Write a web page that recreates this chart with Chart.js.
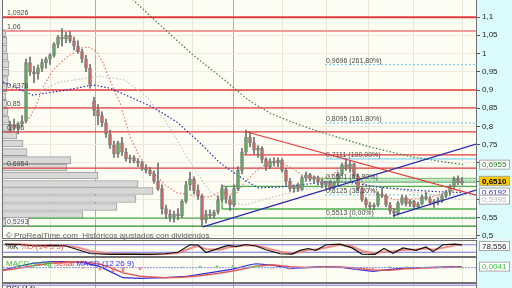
<!DOCTYPE html>
<html>
<head>
<meta charset="utf-8">
<script src="https://cdn.jsdelivr.net/npm/chart.js@4/dist/chart.umd.min.js"></script>
<style>
  html, body { margin: 0; padding: 0; background: #fff; }
  #wrap { position: relative; width: 512px; height: 288px; overflow: hidden; background: #f3f3f3;
          font-family: "Liberation Sans", Arial, sans-serif; }
  canvas { position: absolute; left: 0; display: block; }
  .title { position: absolute; left: 6px; font-size: 8px; line-height: 9px; white-space: nowrap; z-index: 2; }
</style>
</head>
<body>
<div id="wrap">
  <canvas id="mainChart" width="512" height="239" style="top:0"></canvas>
  <canvas id="stochChart" width="512" height="17" style="top:240px"></canvas>
  <canvas id="macdChart" width="512" height="26" style="top:257px"></canvas>
  <canvas id="rsiChart" width="512" height="6" style="top:283px"></canvas>

  <div class="title" style="top:231px;color:#666">© ProRealTime.com &nbsp;Históricos ajustados con dividendos</div>
  <div class="title" style="top:242px"><span style="color:#111">%K</span> <span style="color:#e8605a">%D (14 3 3)</span></div>
  <div class="title" style="top:259px"><span style="color:#3cbf3c">MACD-señal</span> <span style="color:#e04040">Señal</span> <span style="color:#2f2fff">MACD (12 26 9)</span></div>
  <div class="title" style="top:284px;color:#222">RSI (14)</div>
</div>

<script>
// ============================
// Данные графика
// ============================

// свечи (индекс = номер недели)
const opens  = [0.800,0.805,0.795,0.808,0.815,0.975,0.950,0.945,0.960,0.975,0.985,0.995,1.025,1.045,1.040,1.050,1.035,1.020,1.005,0.985,
                0.960,0.870,0.845,0.830,0.810,0.780,0.750,0.725,0.755,0.730,0.712,0.715,0.705,0.700,0.685,0.680,0.670,0.650,0.630,0.575,
                0.560,0.552,0.560,0.555,0.595,0.640,0.655,0.625,0.610,0.545,0.560,0.555,0.565,0.600,0.630,0.600,0.585,0.630,0.680,0.730,
                0.770,0.755,0.735,0.740,0.710,0.690,0.705,0.700,0.708,0.680,0.650,0.630,0.635,0.628,0.660,0.668,0.655,0.660,0.648,0.640,
                0.645,0.632,0.645,0.670,0.695,0.688,0.698,0.665,0.630,0.600,0.585,0.580,0.585,0.615,0.610,0.585,0.568,0.562,0.590,0.605,
                0.588,0.595,0.580,0.588,0.608,0.602,0.590,0.595,0.598,0.610,0.620,0.635,0.655,0.645];
const highs  = [0.815,0.820,0.812,0.830,0.985,0.990,0.965,0.968,0.985,0.990,1.000,1.030,1.050,1.068,1.058,1.060,1.045,1.035,1.012,0.995,
                0.970,0.880,0.860,0.840,0.820,0.790,0.760,0.760,0.770,0.740,0.722,0.720,0.712,0.705,0.695,0.688,0.678,0.700,0.640,0.585,
                0.572,0.568,0.575,0.600,0.650,0.675,0.662,0.640,0.615,0.570,0.572,0.570,0.610,0.640,0.635,0.610,0.640,0.690,0.740,0.790,
                0.785,0.770,0.748,0.745,0.715,0.712,0.715,0.714,0.712,0.685,0.658,0.640,0.645,0.665,0.675,0.672,0.665,0.664,0.655,0.650,
                0.652,0.648,0.675,0.700,0.712,0.705,0.700,0.670,0.635,0.605,0.592,0.590,0.620,0.632,0.615,0.592,0.575,0.595,0.612,0.610,
                0.600,0.598,0.592,0.612,0.620,0.608,0.600,0.605,0.615,0.625,0.640,0.662,0.665,0.660];
const lows   = [0.785,0.790,0.780,0.800,0.810,0.940,0.920,0.930,0.950,0.960,0.970,0.990,1.015,1.020,1.030,1.030,1.010,1.000,0.975,0.950,
                0.905,0.830,0.805,0.800,0.770,0.740,0.715,0.715,0.720,0.705,0.700,0.700,0.690,0.680,0.672,0.665,0.645,0.625,0.560,0.548,
                0.540,0.538,0.545,0.550,0.590,0.625,0.615,0.600,0.525,0.535,0.548,0.548,0.560,0.595,0.590,0.570,0.580,0.625,0.670,0.725,
                0.745,0.725,0.715,0.700,0.680,0.685,0.692,0.690,0.675,0.640,0.622,0.620,0.622,0.625,0.650,0.650,0.645,0.640,0.632,0.628,
                0.625,0.628,0.640,0.665,0.680,0.675,0.660,0.625,0.595,0.578,0.572,0.572,0.580,0.605,0.580,0.560,0.552,0.558,0.585,0.582,
                0.580,0.575,0.575,0.585,0.598,0.585,0.578,0.585,0.592,0.605,0.612,0.630,0.640,0.640];
const closes = [0.805,0.795,0.808,0.815,0.975,0.950,0.945,0.960,0.975,0.985,0.995,1.025,1.045,1.040,1.050,1.035,1.020,1.005,0.985,0.960,
                0.915,0.845,0.830,0.810,0.780,0.750,0.725,0.755,0.730,0.712,0.715,0.705,0.700,0.685,0.680,0.670,0.650,0.630,0.575,0.560,
                0.552,0.560,0.555,0.595,0.640,0.655,0.625,0.610,0.545,0.560,0.555,0.565,0.600,0.630,0.600,0.585,0.630,0.680,0.730,0.770,
                0.755,0.735,0.740,0.710,0.690,0.705,0.700,0.708,0.680,0.650,0.630,0.635,0.628,0.660,0.668,0.655,0.660,0.648,0.640,0.645,
                0.632,0.645,0.670,0.695,0.688,0.698,0.665,0.630,0.600,0.585,0.580,0.585,0.615,0.610,0.585,0.568,0.562,0.590,0.605,0.588,
                0.595,0.580,0.588,0.608,0.602,0.590,0.595,0.598,0.610,0.620,0.635,0.655,0.645,0.651];

// скользящие средние: [индекс, цена]
const maFast  = [[2,0.796],[5,0.826],[6.75,0.864],[8.25,0.908],[10.75,0.955],[14.25,0.990],[17.5,1.015],[19.5,1.018],[21.75,1.004],
                 [23.25,0.974],[25,0.927],[27.5,0.864],[30,0.771],[32.5,0.716],[35,0.681],[38.75,0.640],[41.75,0.618],[45,0.612],
                 [47.5,0.607],[50,0.607],[52.5,0.621],[56.25,0.612],[58.75,0.648],[61.25,0.675],[63.75,0.695],[67,0.703],[70.5,0.686],
                 [73.75,0.662],[78.75,0.659],[81.25,0.673],[83.75,0.700],[86.25,0.673],[88.75,0.640],[91.25,0.621],[96.25,0.599],
                 [104.5,0.604],[111.25,0.626],[113,0.630]];
const maMid   = [[6.25,0.892],[12.5,0.922],[22.5,0.938],[28.75,0.927],[34.25,0.881],[38.75,0.818],[42.5,0.749],[46.25,0.681],
                 [50,0.621],[53.75,0.593],[58.75,0.585],[65,0.604],[72.5,0.626],[80,0.637],[87.5,0.642],[97.5,0.626],[107.5,0.610],[113,0.5995]];
const maSlow  = [[-1.75,0.922],[5.75,0.886],[14.25,0.900],[20.75,0.914],[25,0.905],[30,0.881],[35.75,0.853],[41.75,0.812],[47.5,0.755],
                 [52.5,0.700],[55,0.681],[58.75,0.653],[62,0.632],[67,0.634],[72.5,0.640],[78.75,0.648],[84.5,0.648],[92,0.634],
                 [100.5,0.626],[107.5,0.621],[113,0.6192]];
const maLong  = [[30,1.155],[37.5,1.078],[45.75,0.996],[54.25,0.922],[59.5,0.873],[65,0.837],[70.5,0.812],[77.5,0.785],[90,0.744],
                 [100.75,0.716],[113.25,0.6955]];

// горизонтальные уровни: [цена, начальный индекс]
const redLevels   = [[1.0995,-1.75],[1.0616,-1.75],[0.900,-1.75],[0.851,-1.75],[0.785,-1.75],[0.722,58.5],[0.686,-1.75]];
const greenLevels = [[0.636,53],[0.574,53],[0.549,-1.75],[0.527,-1.75]];
const bandLevels  = [0.658, 0.647];
const fibLevels   = [0.9696, 0.8095, 0.7111, 0.6501, 0.6125, 0.5513];
const fibStart    = 78.75;
const leftLabels  = [['1,0926',1.0995],['1,06',1.0616],['0,9376',0.900],['0,85',0.851],['0,796',0.785],['0,6954',0.686],['0,5293',0.527]];
const fibLabels   = ['0,9696 (261,80%)','0,8095 (161,80%)','0,7111 (100,00%)','0,6501 (61,80%)','0,6125 (38,20%)','0,5513 (0,00%)'];

// линии тренда: [[x0,y0],[x1,y1]]
const trendRed   = [[59.25,0.785],[116.5,0.612]];
const trendBlue  = [[48.25,0.525],[116.5,0.752]];
const trendBlue2 = [[95.75,0.555],[116.5,0.626]];

// профиль объёма
const profilePrices = [0.5356,0.5575,0.5795,0.6014,0.6233,0.6425,0.6658,0.6877,0.708,0.730,0.7534,0.7753,
                       0.797,0.819,0.840,0.862,0.883,0.905,0.927,0.948,0.970,0.991,1.013,1.035,1.056];
const profileVolume = [21,80,114,133,150,135,95,64,68,24,20,14,9,6,5,4,3,4,5,6,6,5,4,4,3];

// метки на правой оси
const priceTicks  = [0.5,0.55,0.6,0.65,0.7,0.75,0.8,0.85,0.9,0.95,1,1.05,1.1];
const hiddenTicks = [0.6,0.65,0.7];
const gridTicks   = [10,21.25,33.25,45.5,55.75,68,79,89.5,100.75,113];
const darkTicks   = [21.25,55.75];
const lastValues  = [['0,6955',0.6955,'#2e7d32','#ffffff',false],['0,6510',0.6510,'#000000','#ffcc00',true],
                     ['0,6192',0.6192,'#2424b0','#ffffff',false],['0,5995',0.5995,'#b8b8b8','#ffffff',false]];

// стохастик
const stochX = [-1.25,2.5,6.25,10,13.75,17,20,25,30,35,38.75,42,45,47,49,52.5,54.5,56.5,59,61.5,64,67.5,70.5,72.5,74.5,76.5,
                79,82.5,85.5,88,91.25,93.5,95.75,98.25,101.5,104,105.75,108.25,111.25,113];
const stochK = [85,82,70,75,72,40,10,3,5,3,8,20,80,78,18,55,75,65,82,70,40,8,5,35,50,35,80,85,55,5,3,50,12,55,35,62,25,80,85,78.556];
const stochD = [83,84,76,73,73,58,30,8,5,4,6,14,50,72,45,40,58,68,75,74,55,25,10,20,40,42,58,80,68,30,10,25,28,38,42,50,40,55,75,80];

// MACD
const macdX    = [-1.75,1.75,5.75,10,14.25,18.25,22.5,25.75,28.25,32.5,38.75,43.25,47.5,51.75,55.75,60,61.5,65.5,70,74,
                  78.25,82.5,86.5,90.75,95,99,103.25,107.5,111.5,113];
const macdLine = [-0.010,0.004,0.018,0.025,0.025,0.022,0.004,-0.022,-0.042,-0.045,-0.042,-0.038,-0.028,-0.017,-0.006,0.012,0.016,
                  0.010,-0.003,0.000,0.004,0.002,-0.008,-0.016,-0.007,-0.001,0.000,0.002,0.004,0.0041];
const macdSig  = [-0.012,-0.004,0.008,0.018,0.023,0.024,0.014,-0.004,-0.022,-0.036,-0.042,-0.040,-0.034,-0.025,-0.014,0.000,0.006,
                  0.012,0.004,0.000,0.002,0.003,-0.002,-0.010,-0.011,-0.005,-0.002,0.000,0.002,0.003];
const macdHist = [0.002,0.008,0.010,0.007,0.002,-0.002,-0.010,-0.018,-0.020,-0.009,0.000,0.002,0.006,0.008,0.008,0.008,0.010,
                  -0.002,-0.007,0.000,0.002,-0.001,-0.006,-0.006,0.004,0.004,0.002,0.002,0.002,0.001];

// ============================
// Общие настройки
// ============================
const X_MIN = -1.75, X_MAX = 116.5;
const FONT = '"Liberation Sans", Arial, sans-serif';
Chart.defaults.font.family = FONT;
Chart.defaults.font.size = 8;

const fmt = v => String(Math.round(v * 10000) / 10000).replace('.', ',');
const pts = arr => arr.map(([x, y]) => ({ x, y }));

// без отступов от подписей, чтобы область графика шла от края до края
const noPad = s => { s.width = 36; s.paddingTop = 0; s.paddingBottom = 0; };

function xAxis() {
    return {
        type: 'linear', min: X_MIN, max: X_MAX, offset: false,
        afterBuildTicks: s => { s.ticks = gridTicks.map(v => ({ value: v })); },
        afterFit: s => { s.height = 0; s.paddingLeft = 0; s.paddingRight = 0; },
        ticks: { display: false },
        grid: {
            offset: false, drawTicks: false,
            color: c => (c.tick && darkTicks.includes(c.tick.value)) ? '#b0b0b0' : '#e6e6d6'
        },
        border: { display: false }
    };
}

// фон панели и голубая полоса оси
const panelBg = {
    id: 'panelBg',
    beforeDraw(chart) {
        const { ctx, chartArea: a, width, height } = chart;
        ctx.save();
        ctx.fillStyle = '#dcfbfc';
        ctx.fillRect(a.right, 0, width - a.right, height);
        ctx.fillStyle = '#fdfdf3';
        ctx.fillRect(a.left, a.top, a.right - a.left, a.bottom - a.top);
        ctx.restore();
    },
    afterDraw(chart) {
        const { ctx, chartArea: a } = chart;
        ctx.save();
        ctx.strokeStyle = '#707070';
        ctx.lineWidth = 1;
        ctx.strokeRect(a.left - 0.5, a.top - 0.5, a.right - a.left + 1, a.bottom - a.top + 1);
        ctx.restore();
    }
};

function valueBox(ctx, a, yPix, text, color, bg, bold) {
    const cy = Math.max(a.top + 5, Math.min(a.bottom - 5, yPix));
    ctx.fillStyle = bg;
    ctx.fillRect(a.right + 3, cy - 5, 31, 10);
    ctx.strokeStyle = '#a8a8a8';
    ctx.strokeRect(a.right + 3.5, cy - 4.5, 30, 9);
    ctx.fillStyle = color;
    ctx.font = (bold ? 'bold ' : '') + '8px ' + FONT;
    ctx.textBaseline = 'middle';
    ctx.fillText(text, a.right + 6, cy + 0.5);
}

// подписи уровней и метки последних значений
const mainLabels = {
    id: 'mainLabels',
    afterDatasetsDraw(chart) {
        const { ctx, chartArea: a, scales: { x, y } } = chart;
        ctx.save();
        ctx.font = '7px ' + FONT;
        ctx.textBaseline = 'alphabetic';
        leftLabels.forEach(([txt, p]) => {
            const py = y.getPixelForValue(p);
            if (txt === '0,5293') {
                ctx.fillStyle = '#ffffff';
                ctx.fillRect(a.left + 2, py - 9, 24, 9);
                ctx.strokeStyle = '#9a9a9a';
                ctx.strokeRect(a.left + 2.5, py - 8.5, 23, 8);
            }
            ctx.fillStyle = '#4a4a4a';
            ctx.fillText(txt, a.left + 4, py - 2);
        });
        const fx = x.getPixelForValue(fibStart) + 1;
        fibLevels.forEach((p, i) => {
            ctx.fillStyle = '#4a4a4a';
            ctx.fillText(fibLabels[i], fx, y.getPixelForValue(p) - 2);
        });
        lastValues.forEach(([txt, p, color, bg, bold]) => valueBox(ctx, a, y.getPixelForValue(p), txt, color, bg, bold));
        ctx.restore();
    }
};

// ============================
// Основной график
// ============================
const hLine = (price, from, color, width, dash, order) => ({
    type: 'line', data: [{ x: from, y: price }, { x: X_MAX, y: price }],
    borderColor: color, borderWidth: width, borderDash: dash || [], pointRadius: 0, order: order
});
const maLine = (arr, color) => ({
    type: 'line', data: pts(arr), borderColor: color, borderWidth: 1.2, borderDash: [1.5, 2],
    pointRadius: 0, order: 6
});

const candleColors = opens.map((o, i) => closes[i] >= o ? '#58b458' : '#e0625c');

const datasets = [
    {
        type: 'bar', indexAxis: 'y', xAxisID: 'xv', yAxisID: 'y',
        data: profilePrices.map((p, i) => ({ y: p, x: profileVolume[i] })),
        backgroundColor: '#d8d8d8', borderColor: '#9c9c9c', borderWidth: 1,
        barThickness: 7, grouped: false, order: 10
    },
    ...fibLevels.map((p, i) => hLine(p, fibStart, '#6cc6f5', 1, i === 2 ? [] : [2, 2], 9)),
    ...redLevels.map(([p, from], i) => hLine(p, from, i === 1 ? '#f19a9a' : '#e53a3a', i < 2 ? 2 : 1.3, [], 8)),
    ...greenLevels.map(([p, from], i) => hLine(p, from, i === 3 ? '#2b8a2b' : '#4caf50', 1.3, [], 8)),
    hLine((bandLevels[0] + bandLevels[1]) / 2, 77.5, 'rgba(120,195,120,0.35)', 4, [], 8),
    ...bandLevels.map(p => hLine(p, 77.5, '#6fbf6f', 1, [], 8)),
    {
        type: 'line', data: [{ x: 53, y: greenLevels[1][0] }, { x: 53, y: greenLevels[0][0] }],
        borderColor: '#4caf50', borderWidth: 1.3, pointRadius: 0, order: 8
    },
    maLine(maLong, '#3f7d4a'),
    maLine(maSlow, '#2a2ab8'),
    maLine(maMid, '#c4c4c4'),
    maLine(maFast, '#e8776f'),
    {
        type: 'bar', data: lows.map((l, i) => ({ x: i, y: [l, highs[i]] })),
        backgroundColor: '#6e6e6e', barThickness: 1, grouped: false, order: 5
    },
    {
        type: 'bar', data: opens.map((o, i) => ({ x: i, y: [o, closes[i]] })),
        backgroundColor: candleColors, borderColor: '#7c7c7c', borderWidth: 1, borderSkipped: false,
        barThickness: 3, grouped: false, order: 4
    },
    { type: 'line', data: pts(trendRed), borderColor: '#e53a3a', borderWidth: 1.2, pointRadius: 0, order: 2 },
    { type: 'line', data: pts(trendBlue), borderColor: '#2a2ab0', borderWidth: 1.3, pointRadius: 0, order: 2 },
    { type: 'line', data: pts(trendBlue2), borderColor: '#2a2ab0', borderWidth: 1.3, pointRadius: 0, order: 2 }
];

new Chart(document.getElementById('mainChart'), {
    type: 'line',
    data: { datasets },
    options: {
        responsive: false, animation: false, devicePixelRatio: 1,
        layout: { padding: { left: 3, top: 0, right: 0, bottom: 1 } },
        plugins: { legend: { display: false }, tooltip: { enabled: false } },
        scales: {
            x: xAxis(),
            xv: { type: 'linear', display: false, min: 0, max: 473, offset: false },
            y: {
                type: 'linear', position: 'right', min: 0.4945, max: 1.1466, offset: false,
                afterBuildTicks: s => { s.ticks = priceTicks.map(v => ({ value: v })); },
                afterFit: noPad,
                ticks: { color: '#222', padding: 2, callback: v => hiddenTicks.includes(v) ? '' : fmt(v) },
                grid: { offset: false, color: '#ecebde', tickLength: 4, tickColor: '#555' },
                border: { color: '#555' }
            }
        }
    },
    plugins: [panelBg, mainLabels]
});

// ============================
// Нижние панели
// ============================
function subPanel(id, datasets, yMin, yMax, box) {
    const boxPlugin = {
        id: 'boxPlugin',
        afterDatasetsDraw(chart) {
            if (!box) return;
            const { ctx, chartArea: a, scales: { y } } = chart;
            ctx.save();
            valueBox(ctx, a, y.getPixelForValue(box.value), box.text, box.color, '#ffffff', false);
            ctx.restore();
        }
    };
    return new Chart(document.getElementById(id), {
        type: 'line',
        data: { datasets },
        options: {
            responsive: false, animation: false, devicePixelRatio: 1,
            layout: { padding: { left: 3, top: 1, right: 0, bottom: 1 } },
            plugins: { legend: { display: false }, tooltip: { enabled: false } },
            scales: {
                x: xAxis(),
                y: {
                    type: 'linear', position: 'right', min: yMin, max: yMax,
                    afterFit: noPad,
                    ticks: { display: false },
                    grid: { display: false },
                    border: { color: '#555' }
                }
            }
        },
        plugins: [panelBg, boxPlugin]
    });
}

const flat = (v, color, dash) => ({
    data: [{ x: X_MIN, y: v }, { x: X_MAX, y: v }], borderColor: color, borderWidth: 1,
    borderDash: dash || [], pointRadius: 0
});

subPanel('stochChart', [
    { data: stochK.map((v, i) => ({ x: stochX[i], y: v })), borderColor: '#111', borderWidth: 1.2, pointRadius: 0 },
    { data: stochD.map((v, i) => ({ x: stochX[i], y: v })), borderColor: '#f08a84', borderWidth: 2, pointRadius: 0 },
    flat(80, '#7272e6'), flat(20, '#7272e6')
], -10, 110, { value: 78.556, text: '78,556', color: '#222' });

subPanel('macdChart', [
    {
        type: 'bar', data: macdHist.map((v, i) => ({ x: macdX[i], y: v })),
        backgroundColor: macdHist.map(v => v >= 0 ? '#7ed07e' : '#e88a8a'), barThickness: 2, grouped: false
    },
    flat(0, '#8f8fef', [2, 1]),
    { data: macdSig.map((v, i) => ({ x: macdX[i], y: v })), borderColor: '#e05a5a', borderWidth: 1.5, pointRadius: 0 },
    { data: macdLine.map((v, i) => ({ x: macdX[i], y: v })), borderColor: '#2f2fe0', borderWidth: 1.2, pointRadius: 0 }
], -0.06, 0.04, { value: 0.0041, text: '0,0041', color: '#3cbf3c' });

subPanel('rsiChart', [flat(70, '#7272e6')], 0, 100, null);
</script>
</body>
</html>
